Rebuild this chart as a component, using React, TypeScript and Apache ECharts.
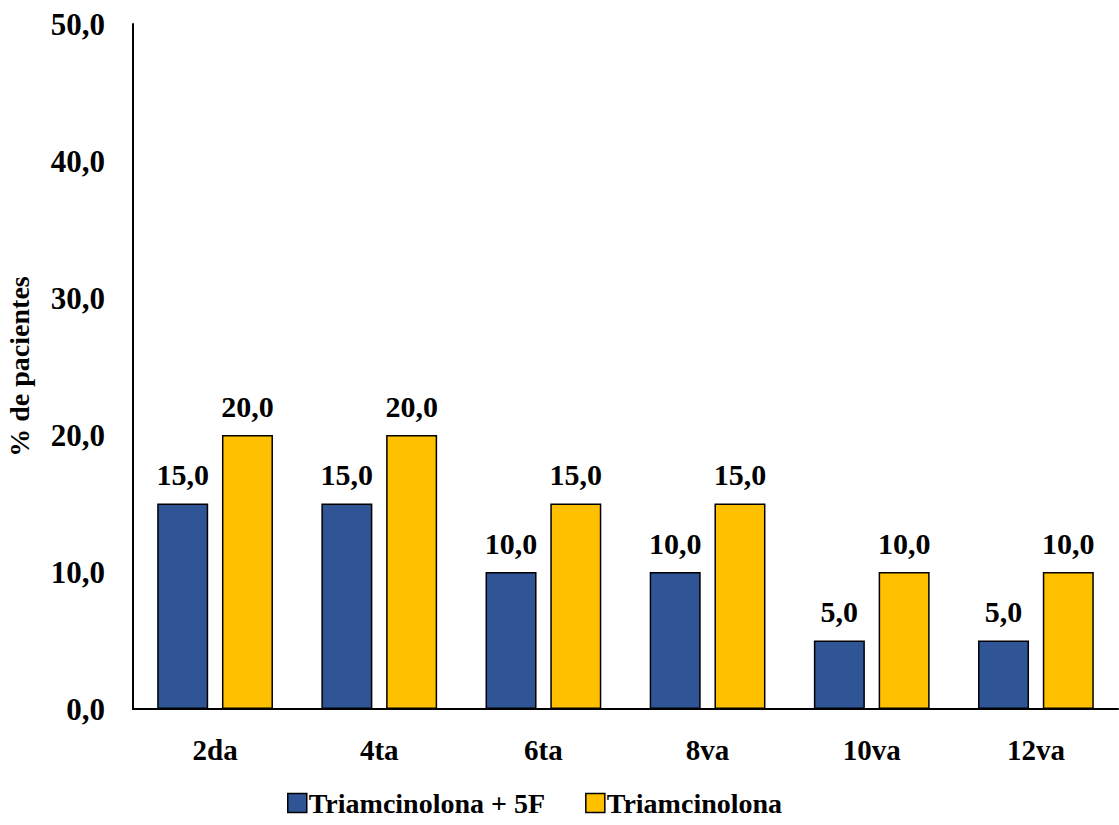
import React, { useEffect, useRef } from "react";
import * as echarts from "echarts";

const categories = ["2da", "4ta", "6ta", "8va", "10va", "12va"];
const seriesNames = ["Triamcinolona + 5F", "Triamcinolona"];
const withFluorouracil = [15, 15, 10, 10, 5, 5];
const triamcinoloneOnly = [20, 20, 15, 15, 10, 10];
const colors = ["#2F5597", "#FFC000"];

const FONT = "'Liberation Serif', 'Times New Roman', serif";
const fmt = (v: number) => v.toFixed(1).replace(".", ",");
const bold = (size: number) => ({ fontFamily: FONT, fontWeight: "bold" as const, fontSize: size, color: "#000" });

export default function App() {
  const ref = useRef<HTMLDivElement>(null);
  useEffect(() => {
    if (!ref.current) return;
    const chart = echarts.init(ref.current, undefined, { renderer: "svg" });
    const mkSeries = (name: string, data: number[], color: string) => ({
      name,
      type: "bar" as const,
      data,
      barWidth: 51,
      barGap: "27%",
      itemStyle: { color, borderColor: "#000", borderWidth: 1.5 },
      label: {
        show: true,
        position: "top" as const,
        distance: 14,
        formatter: (p: any) => fmt(p.value),
        ...bold(30),
      },
    });
    chart.setOption({
      animation: false,
      backgroundColor: "#fff",
      grid: { left: 133, right: 1, top: 24, bottom: 116, outerBoundsMode: "none" },
      legend: {
        bottom: 3,
        left: 282,
        itemWidth: 19,
        itemHeight: 19,
        itemGap: 40,
        icon: "rect",
        textStyle: { ...bold(28), padding: [0, 0, 0, -3] },
        itemStyle: { borderColor: "#000", borderWidth: 1.5 },
        data: seriesNames,
      },
      xAxis: {
        type: "category",
        data: categories,
        axisLine: { lineStyle: { color: "#000", width: 2 } },
        axisTick: { show: false },
        axisLabel: { ...bold(29), margin: 26 },
      },
      yAxis: {
        type: "value",
        min: 0,
        max: 50,
        interval: 10,
        name: "% de pacientes",
        nameLocation: "middle",
        nameGap: 100,
        nameTextStyle: bold(28),
        axisLine: { show: true, lineStyle: { color: "#000", width: 2 } },
        axisTick: { show: false },
        splitLine: { show: false },
        axisLabel: { ...bold(31), margin: 28, formatter: (v: number) => fmt(v) },
      },
      series: [
        mkSeries(seriesNames[0], withFluorouracil, colors[0]),
        mkSeries(seriesNames[1], triamcinoloneOnly, colors[1]),
      ],
    });
    return () => chart.dispose();
  }, []);
  return (
    <div
      ref={ref}
      style={{ position: "fixed", left: 0, top: 0, width: 1119, height: 825, background: "#fff" }}
    />
  );
}
